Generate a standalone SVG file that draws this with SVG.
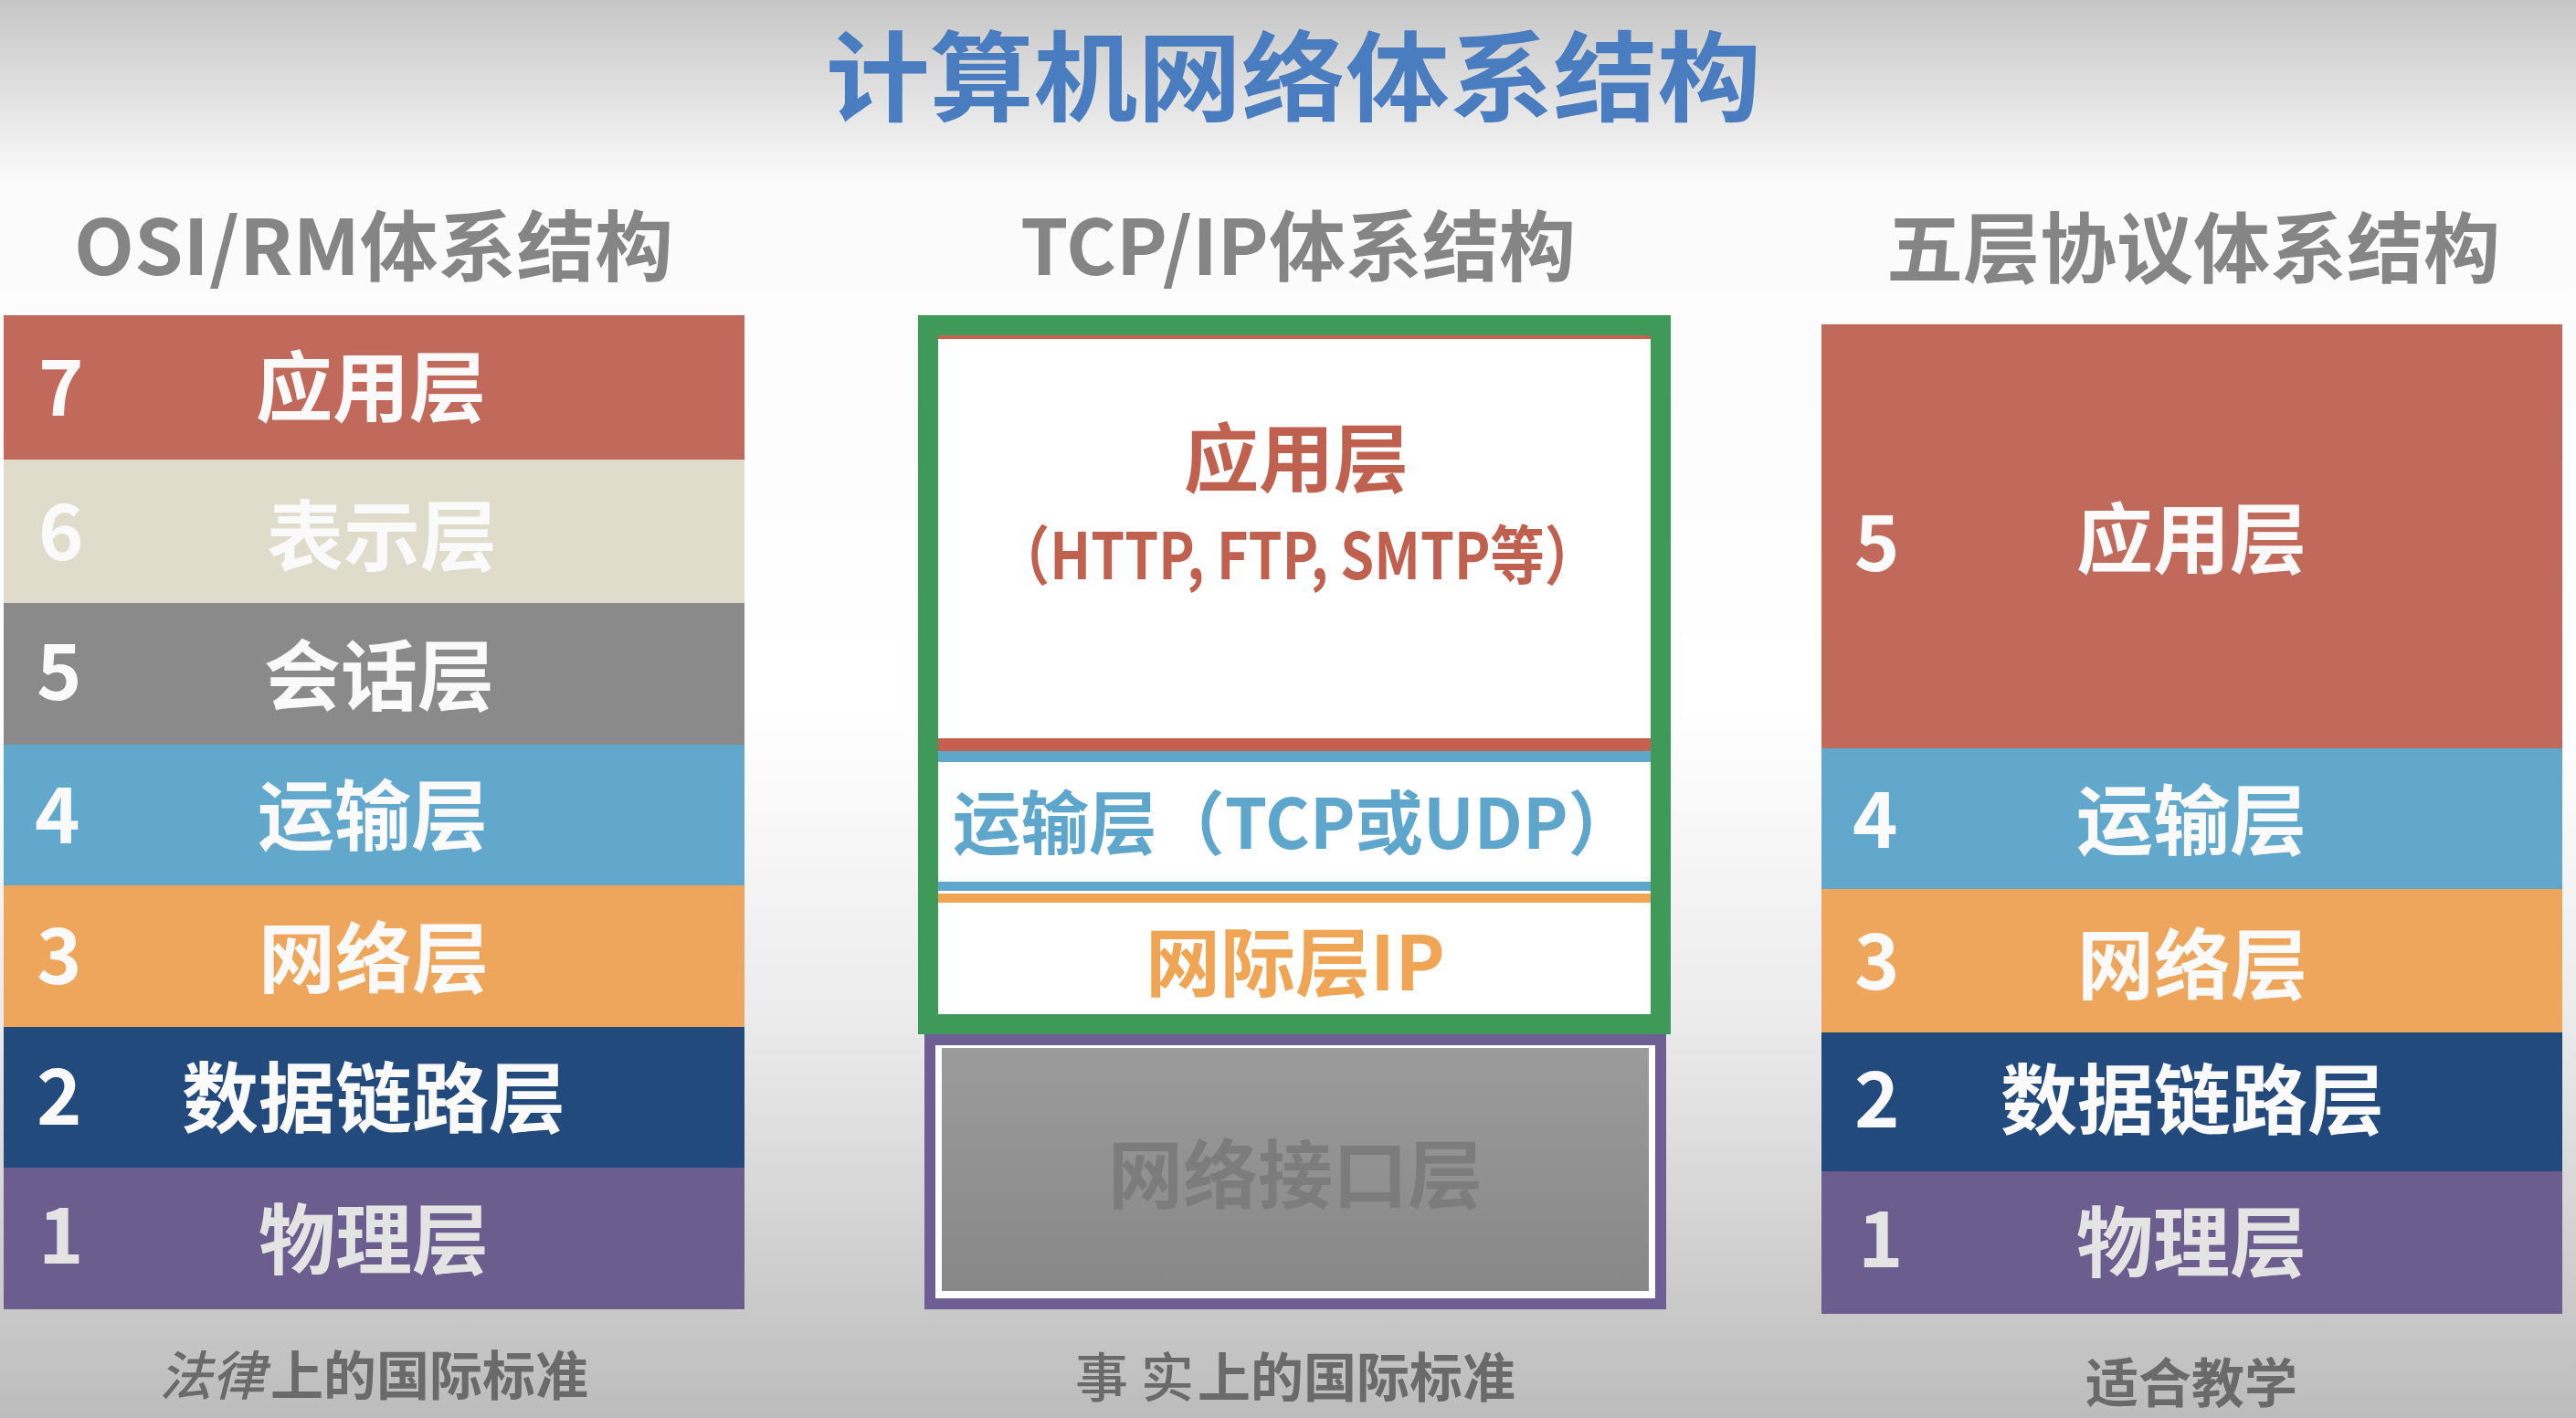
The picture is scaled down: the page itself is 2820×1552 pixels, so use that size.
<svg xmlns="http://www.w3.org/2000/svg" width="2820" height="1552" viewBox="0 0 2820 1552">
<defs>
<linearGradient id="bg" x1="0" y1="0" x2="0" y2="1">
<stop offset="0" stop-color="#c6c6c6"/>
<stop offset="0.13" stop-color="#fbfbfb"/>
<stop offset="0.5" stop-color="#ffffff"/>
<stop offset="0.72" stop-color="#ebebeb"/>
<stop offset="1" stop-color="#bcbcbc"/>
</linearGradient>
<linearGradient id="gbox" x1="0" y1="0" x2="0" y2="1">
<stop offset="0" stop-color="#9b9b9b"/>
<stop offset="1" stop-color="#878787"/>
</linearGradient>
</defs>
<style>
text{font-family:'Noto Sans CJK SC','Noto Sans',sans-serif;font-weight:700}
.num{font-size:84px;fill:#fafafa}
.lbl{font-size:84px;fill:#fafafa;text-anchor:middle}
.head{font-size:84px;fill:#858585;text-anchor:middle}
.cap{font-size:58px;fill:#6a6a6a;text-anchor:middle}
.mid{text-anchor:middle}
</style>
<rect x="0" y="0" width="2820" height="1552" fill="url(#bg)"/>

<g id="title">
<text x="1416" y="124" font-size="107" fill="#4a7dc0" text-anchor="middle" textLength="1024" lengthAdjust="spacingAndGlyphs">计算机网络体系结构</text>
</g>

<g id="headings">
<text class="head" x="409" y="301" textLength="656" lengthAdjust="spacingAndGlyphs">OSI/RM体系结构</text>
<text class="head" x="1421" y="301">TCP/IP体系结构</text>
<text class="head" x="2401" y="303">五层协议体系结构</text>
</g>

<g id="osi">
<g id="osi-7"><rect x="4" y="345" width="811" height="158" fill="#c1695a"/><text class="num" x="42" y="455">7</text><text class="lbl" x="406" y="455">应用层</text></g>
<g id="osi-6"><rect x="4" y="503" width="811" height="157" fill="#dfdccc"/><text class="num" x="42" y="613">6</text><text class="lbl" x="418" y="618">表示层</text></g>
<g id="osi-5"><rect x="4" y="660" width="811" height="155" fill="#8a8a8a"/><text class="num" x="40" y="766">5</text><text class="lbl" x="415" y="771">会话层</text></g>
<g id="osi-4"><rect x="4" y="815" width="811" height="154" fill="#62a8cc"/><text class="num" x="38" y="923">4</text><text class="lbl" x="408" y="924">运输层</text></g>
<g id="osi-3"><rect x="4" y="969" width="811" height="155" fill="#eda65b"/><text class="num" x="40" y="1077">3</text><text class="lbl" x="409" y="1080">网络层</text></g>
<g id="osi-2"><rect x="4" y="1124" width="811" height="154" fill="#234a7c"/><text class="num" x="40" y="1231">2</text><text class="lbl" x="409" y="1233">数据链路层</text></g>
<g id="osi-1"><rect x="4" y="1278" width="811" height="155" fill="#6b5d8d"/><text class="num" x="42" y="1383" style="fill:#e4e4e4">1</text><text class="lbl" x="409" y="1388" style="fill:#e4e4e4">物理层</text></g>
<text class="cap" x="409" y="1527"><tspan font-style="italic" font-weight="500">法律</tspan><tspan dx="6">上的国际标准</tspan></text>
</g>

<g id="tcpip">
<g id="tcp-netif">
<rect x="1018" y="1138" width="800" height="289" fill="#ffffff" stroke="#6d5e93" stroke-width="12"/>
<rect x="1031" y="1147" width="774" height="266" fill="url(#gbox)"/>
<text class="mid" x="1418" y="1316" font-size="82" fill="#7c7c7c">网络接口层</text>
</g>
<g id="tcp-box">
<rect x="1016" y="356" width="802" height="765" fill="#ffffff" stroke="#3f9a5a" stroke-width="22"/>
</g>
<g id="tcp-app">
<rect x="1027" y="367" width="780" height="4" fill="#c8604f"/>
<text class="mid" x="1419" y="532" font-size="82" fill="#c0604f">应用层</text>
<text x="1090" y="634" font-size="70" fill="#c0604f" textLength="660" lengthAdjust="spacingAndGlyphs">（HTTP, FTP, SMTP等）</text>
<rect x="1027" y="808" width="780" height="14" fill="#c8604f"/>
</g>
<g id="tcp-transport">
<rect x="1027" y="822" width="780" height="12" fill="#5ea6cc"/>
<text x="1043" y="929" font-size="76" fill="#5ea6cc" textLength="748" lengthAdjust="spacingAndGlyphs">运输层（TCP或UDP）</text>
<rect x="1027" y="965" width="780" height="10" fill="#5ea6cc"/>
</g>
<g id="tcp-internet">
<rect x="1027" y="978" width="780" height="10" fill="#efa553"/>
<text class="mid" x="1418" y="1084" font-size="82" fill="#efa553">网际层IP</text>
</g>
<text class="cap" x="1418" y="1529"><tspan font-weight="500">事</tspan><tspan font-weight="500" dx="14">实</tspan><tspan dx="4">上的国际标准</tspan></text>
</g>

<g id="five">
<g id="five-5"><rect x="1994" y="355" width="811" height="464" fill="#c1695a"/><text class="num" x="2030" y="625">5</text><text class="lbl" x="2399" y="621">应用层</text></g>
<g id="five-4"><rect x="1994" y="819" width="811" height="154" fill="#62a8cc"/><text class="num" x="2028" y="928">4</text><text class="lbl" x="2399" y="929">运输层</text></g>
<g id="five-3"><rect x="1994" y="973" width="811" height="157" fill="#eda65b"/><text class="num" x="2030" y="1083">3</text><text class="lbl" x="2400" y="1087">网络层</text></g>
<g id="five-2"><rect x="1994" y="1130" width="811" height="152" fill="#234a7c"/><text class="num" x="2030" y="1234">2</text><text class="lbl" x="2400" y="1235">数据链路层</text></g>
<g id="five-1"><rect x="1994" y="1282" width="811" height="156" fill="#6b5d8d"/><text class="num" x="2034" y="1387" style="fill:#e4e4e4">1</text><text class="lbl" x="2399" y="1391" style="fill:#e4e4e4">物理层</text></g>
<text class="cap" x="2399" y="1535">适合教学</text>
</g>

<g id="connectors"/>
</svg>
